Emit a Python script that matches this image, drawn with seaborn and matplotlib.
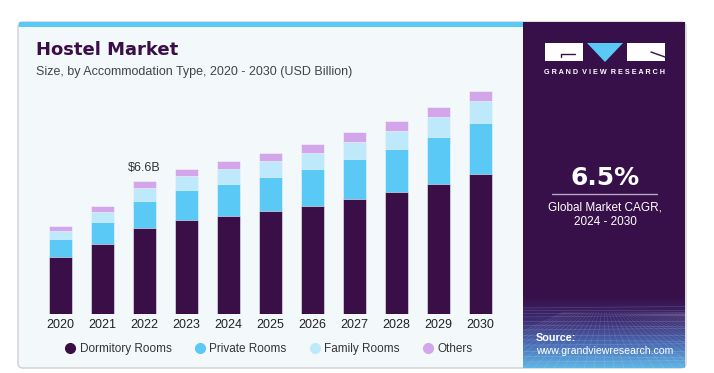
import numpy as np
import pandas as pd
import matplotlib
matplotlib.use("Agg")
import matplotlib.pyplot as plt
import seaborn as sns
from matplotlib.patches import FancyBboxPatch, Rectangle, Polygon
from matplotlib.lines import Line2D
from matplotlib.colors import LinearSegmentedColormap

# ------------------------------------------ DATA ------------------------------------------------#
years = ["2020", "2021", "2022", "2023", "2024", "2025", "2026", "2027", "2028", "2029", "2030"]
dormitory = [2.83, 3.47, 4.25, 4.65, 4.86, 5.11, 5.37, 5.71, 6.05, 6.45, 6.93]
private = [0.88, 1.08, 1.37, 1.49, 1.60, 1.70, 1.85, 1.97, 2.13, 2.33, 2.53]
family = [0.41, 0.53, 0.63, 0.71, 0.73, 0.76, 0.79, 0.88, 0.92, 1.01, 1.09]
others = [0.25, 0.30, 0.35, 0.36, 0.38, 0.40, 0.45, 0.45, 0.47, 0.48, 0.52]
series_names = ["Dormitory Rooms", "Private Rooms", "Family Rooms", "Others"]
series_colors = ["#3A0F47", "#5BC9F5", "#BEE9FA", "#D3A6EC"]
highlight_year = "2022"
highlight_label = "$6.6B"

# ------------------------------------------ STYLE ------------------------------------------------#
sns.set_style("white")
plt.rcParams["font.family"] = ["Liberation Sans", "DejaVu Sans"]

W, H = 714, 373
fig = plt.figure(figsize=(W / 100, H / 100), dpi=100)
fig.patch.set_facecolor("white")

# background axes in pixel coordinates for the card decorations
bg = fig.add_axes([0, 0, 1, 1])
bg.set_xlim(0, W)
bg.set_ylim(H, 0)
bg.axis("off")

card = FancyBboxPatch((18, 22), 668, 346, boxstyle="round,pad=0,rounding_size=5",
                      facecolor="#F3F8FB", edgecolor="#CFCFCF", linewidth=1.0)
bg.add_patch(card)
bg.add_patch(Rectangle((19, 22), 504, 5, facecolor="#5BC9F5", edgecolor="none"))
bg.add_patch(Rectangle((523, 22), 162, 345.5, facecolor="#37104A", edgecolor="none"))

# bottom gradient with grid in the side panel
grad_cmap = LinearSegmentedColormap.from_list("g", ["#37104A", "#3C2C72", "#4A6BB4", "#5FB6E6"])
grad = np.linspace(0, 1, 100).reshape(-1, 1)
bg.imshow(grad, cmap=grad_cmap, extent=[523, 685, 368, 296], aspect="auto", zorder=1)
panel_clip = Rectangle((523, 296), 162, 72, transform=bg.transData)
for k in range(14):
    yy = 308 + 60 * (k / 13) ** 1.3
    bg.plot([523, 685], [yy, yy + (k % 3 - 1) * 1.5], color="white", alpha=0.16, lw=0.5, zorder=2)
for k in range(-16, 32):
    x0 = 604 + k * 2.5
    x1 = 604 + k * 10
    bg.plot([x0, x1], [312, 368], color="white", alpha=0.13, lw=0.5, zorder=2,
            clip_on=True, clip_path=panel_clip)

# logo
bg.add_patch(Rectangle((545, 43), 38, 18, facecolor="white", edgecolor="none", zorder=3))
bg.plot([561, 575], [53.5, 53.5], color="#37104A", lw=1.0, zorder=4)
bg.plot([561, 561], [53.5, 57], color="#37104A", lw=1.0, zorder=4)
bg.add_patch(Polygon([[587, 43], [623, 43], [605, 62]], facecolor="#5BC9F5", edgecolor="none", zorder=3))
bg.add_patch(Rectangle((627, 43), 38, 18, facecolor="white", edgecolor="none", zorder=3))
bg.plot([651, 665], [52, 57], color="#37104A", lw=1.0, zorder=4)
bg.text(605, 73, "G R A N D  V I E W  R E S E A R C H", color="white",
        fontsize=5.2, fontweight="bold", ha="center", va="center", zorder=4)

# CAGR block
bg.text(605, 178, "6.5%", color="white", fontsize=18, fontweight="bold", ha="center", va="center",
        family="DejaVu Sans")
bg.plot([552, 657], [194, 194], color="#B9A7C4", lw=1.0)
bg.text(605, 208, "Global Market CAGR,", color="white", fontsize=8.5, ha="center", va="center")
bg.text(605, 222, "2024 - 2030", color="white", fontsize=8.5, ha="center", va="center")
bg.text(536, 338, "Source:", color="white", fontsize=7.8, fontweight="bold", ha="left", va="center", zorder=4)
bg.text(536, 351, "www.grandviewresearch.com", color="white", fontsize=7.6, ha="left", va="center", zorder=4)

# titles
bg.text(36, 50, "Hostel Market", color="#3A0F47", fontsize=13, fontweight="heavy",
        ha="left", va="center", family="DejaVu Sans")
bg.text(36, 72, "Size, by Accommodation Type, 2020 - 2030 (USD Billion)", color="#444444",
        fontsize=9, ha="left", va="center")

# ------------------------------------------ BARS ------------------------------------------------#
ax = fig.add_axes([39.5 / W, 1 - 314 / H, 462 / W, 234 / H])
ax.set_facecolor("none")

df = pd.DataFrame({"year": years, "Dormitory Rooms": dormitory, "Private Rooms": private,
                   "Family Rooms": family, "Others": others})
cum = df[series_names].cumsum(axis=1)

# draw cumulative totals from the top series down so each segment sits on the one below
for name, color in reversed(list(zip(series_names, series_colors))):
    sns.barplot(x=df["year"], y=cum[name], order=years, color=color, width=0.55,
                edgecolor="#F3F8FB", linewidth=0.4, saturation=1, ax=ax)

ax.set_xlim(-0.5, 10.5)
ax.set_ylim(0, 234 / 20.15)
ax.set_xlabel("")
ax.set_ylabel("")
ax.set_yticks([])
ax.tick_params(axis="x", length=0, pad=3.5, labelsize=9, labelcolor="#222222")
sns.despine(ax=ax, left=True, bottom=True)

i = years.index(highlight_year)
ax.text(i, cum["Others"][i] + 0.35, highlight_label, ha="center", va="bottom",
        fontsize=9, color="#333333")

handles = [Line2D([0], [0], marker="o", linestyle="none", markersize=7, markerfacecolor=c,
                  markeredgecolor=c) for c in series_colors]
fig.legend(handles, series_names, loc="center", bbox_to_anchor=(269 / W, 1 - 349 / H), ncol=4,
           frameon=False, fontsize=8.5, handlelength=0.8, handletextpad=0.4, columnspacing=2.0,
           labelcolor="#333333")

fig.savefig("out.png", dpi=100, facecolor="white")
